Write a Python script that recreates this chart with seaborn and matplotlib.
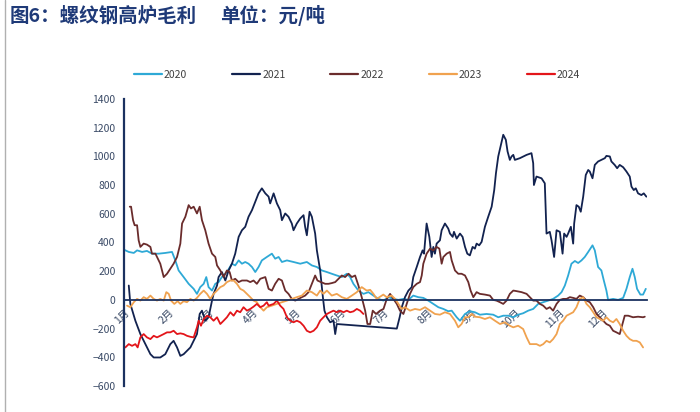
import matplotlib
matplotlib.use("Agg")
import matplotlib.pyplot as plt
import numpy as np
import pandas as pd
import seaborn as sns
from matplotlib.lines import Line2D

# day of year -> margin (yuan/ton)
day_2020 = [0, 3.4, 6.9, 9.2, 12.7, 16.1, 19.6, 24.3, 28.9, 33.6, 35.9, 38.2, 41.7, 45.2, 48.7, 51.0,
            53.3, 55.7, 57.5, 59.1, 61.5, 63.8, 66.1, 68.4, 71.9, 75.4, 77.7, 80.1, 82.4, 84.7, 87.0,
            89.4, 91.7, 94.0, 96.3, 99.8, 103.3, 105.6, 108.0, 110.3, 113.8, 118.4, 123.1, 127.7,
            131.2, 134.7, 138.2, 141.7, 145.1, 148.6, 152.1, 155.6, 157.9, 160.2, 163.7, 167.2, 170.7,
            174.2, 177.7, 181.2, 184.6, 188.1, 191.6, 195.0, 198.6, 202.0, 205.5, 209.0, 212.5, 216.0,
            219.5, 223.0, 226.4, 228.8, 232.3, 234.6, 238.1, 241.5, 245.0, 248.5, 253.2, 257.8, 261.3,
            264.8, 268.3, 271.8, 275.2, 278.7, 282.2, 285.7, 289.2, 292.7, 296.2, 299.6, 303.1, 305.5,
            307.8, 310.1, 312.4, 314.8, 317.1, 319.4, 321.7, 324.1, 327.1, 328.7, 331.0, 333.3, 335.0,
            336.8, 338.0, 341.5, 345.0, 348.5, 350.8, 353.1, 355.0, 356.6, 358.2, 360.5, 362.4, 364.3]
val_2020 = [350, 334, 327, 345, 334, 341, 322, 322, 327, 334, 275, 205, 159, 112, 77, 42,
            89, 112, 159, 89, 65, 112, 124, 159, 194, 252, 240, 275, 252, 264, 252,
            229, 194, 229, 275, 299, 322, 287, 299, 264, 275, 264, 252, 264,
            240, 229, 205, 194, 182, 170, 159, 182, 159, 112, 65, 42, 54,
            30, 7, -5, 19, 7, 0, 7, 0, 30, 19, 14, -5, -28,
            -51, -63, -79, -75, -121, -145, -98, -79, -86, -103, -98, -103, -121,
            -110, -110, -121, -103, -93, -75, -63, -28, -16, -5, 7, 30, 54,
            100, 170, 252, 271, 257, 275, 299, 334, 380, 345, 229, 205, 135,
            65, 0, 7, 0, 14, 77, 159, 217, 159, 77, 37, 37, 77]

day_2021 = [3.4, 4.5, 8.0, 11.5, 15.0, 18.5, 20.8, 25.4, 28.9, 32.4, 34.7, 37.1, 39.4, 41.7, 46.4,
            51.0, 52.9, 54.5, 56.8, 59.1, 61.5, 62.6, 65.0, 66.1, 68.4, 70.8, 73.1, 75.4, 77.7, 80.1,
            82.4, 84.7, 87.0, 89.4, 91.7, 94.0, 96.3, 98.7, 101.0, 102.1, 104.5, 106.8, 109.1, 110.3,
            112.6, 114.9, 117.2, 118.4, 120.7, 123.1, 125.4, 126.5, 127.7, 129.6, 131.2, 133.5, 134.7,
            137.0, 138.9, 140.0, 141.7, 144.0, 146.3, 147.5, 148.6, 190.5, 192.5, 194.0, 196.2, 198.6,
            200.9, 202.0, 204.4, 206.7, 208.5, 209.5, 211.3, 213.2, 214.8, 216.0, 217.1, 218.3, 220.6,
            221.8, 224.1, 226.4, 227.6, 229.5, 230.4, 232.3, 234.6, 236.4, 238.1, 239.7, 241.5, 243.4,
            245.0, 246.2, 248.0, 249.7, 252.0, 254.3, 256.7, 258.5, 259.7, 261.3, 262.9, 264.8, 266.6,
            267.8, 269.4, 270.6, 271.8, 272.9, 276.4, 281.1, 284.5, 285.7, 286.2, 288.0, 291.5, 293.8,
            295.0, 297.3, 298.5, 300.3, 302.0, 304.3, 306.2, 307.3, 309.0, 310.1, 312.0, 313.6, 314.3,
            315.9, 317.5, 318.9, 320.6, 322.4, 324.1, 325.2, 327.1, 328.7, 331.0, 333.3, 335.7, 336.8,
            339.2, 340.3, 342.6, 344.3, 346.1, 348.5, 350.8, 353.1, 354.3, 355.9, 357.3, 358.9, 361.2,
            362.9, 364.7]
val_2021 = [100, -28, -145, -238, -308, -378, -401, -401, -378, -308, -285, -331, -390, -378, -331,
            -238, -98, -75, -145, -121, -5, 42, 100, 159, 194, 135, 205, 252, 322, 439,
            485, 509, 579, 625, 684, 742, 777, 742, 719, 672, 742, 672, 625, 555,
            602, 579, 532, 485, 532, 567, 590, 509, 450, 614, 579, 462, 345,
            205, 19, -75, -121, -156, -145, -238, -168, -200, -120, -50, 19, 65,
            89, 159, 229, 299, 345, 322, 532, 439, 299, 369, 322, 392, 415,
            485, 532, 497, 462, 439, 474, 427, 462, 439, 369, 322, 310, 369,
            357, 392, 380, 404, 509, 579, 649, 765, 882, 999, 1069, 1150, 1115,
            1034, 975, 999, 1010, 975, 987, 1010, 1022, 952, 800, 859, 847, 812,
            462, 474, 415, 299, 485, 474, 322, 462, 439, 462, 509, 392, 532,
            660, 649, 614, 719, 870, 905, 894, 847, 940, 964, 975, 987, 1003,
            999, 964, 940, 917, 940, 924, 894, 859, 789, 765, 777, 742, 730,
            742, 719]

day_2022 = [4.1, 5.0, 6.4, 7.5, 9.2, 10.3, 11.5, 13.8, 16.1, 18.5, 19.6, 22.0, 23.1, 25.4, 27.8,
            30.1, 32.4, 34.7, 37.1, 39.4, 40.6, 42.9, 45.2, 46.8, 48.7, 51.0, 52.9, 54.5, 56.8, 59.1,
            61.5, 63.8, 65.0, 67.3, 69.6, 71.9, 73.8, 75.4, 77.7, 80.1, 82.4, 85.9, 88.2, 90.5, 92.8,
            95.2, 98.7, 101.0, 103.3, 105.6, 108.0, 110.3, 112.6, 114.9, 117.2, 119.6, 121.9, 124.2,
            126.5, 128.9, 131.2, 133.5, 135.1, 137.5, 140.5, 142.8, 145.1, 147.5, 149.8, 152.1, 154.4,
            156.8, 159.1, 161.4, 163.7, 166.0, 168.4, 170.0, 171.9, 173.7, 176.0, 178.8, 181.2, 183.5,
            185.8, 188.1, 190.5, 192.7, 195.1, 197.4, 199.7, 202.0, 204.4, 206.7, 207.9, 209.0, 211.3,
            213.7, 216.0, 218.3, 220.2, 221.8, 223.0, 225.3, 227.6, 228.8, 231.1, 233.4, 235.7, 238.1,
            240.4, 242.0, 243.9, 246.2, 248.5, 252.0, 255.5, 257.8, 260.1, 262.5, 264.8, 267.1, 269.4,
            271.8, 274.1, 277.6, 281.1, 283.4, 285.7, 288.0, 290.4, 292.7, 295.0, 297.3, 299.6, 302.0,
            304.3, 306.6, 309.0, 311.3, 313.6, 315.9, 318.2, 320.6, 322.9, 325.2, 327.6, 329.9, 332.2,
            334.5, 336.8, 339.2, 341.5, 343.8, 346.1, 348.0, 349.6, 352.0, 355.4, 358.9, 362.4, 363.6]
val_2022 = [649, 649, 555, 520, 520, 415, 369, 392, 385, 369, 322, 322, 299, 252, 159,
            182, 217, 252, 299, 392, 532, 579, 660, 637, 649, 602, 649, 555, 485, 392,
            322, 299, 240, 205, 159, 205, 194, 135, 147, 124, 135, 135, 124, 135, 112,
            147, 159, 77, 65, 112, 147, 135, 65, 42, 7, -5, 7, 19,
            30, 54, 112, 170, 135, 124, 112, 112, 117, 124, 147, 170, 159,
            182, 159, 170, 100, 19, -75, -168, -168, -75, -98, -75, -63, 7,
            42, 7, -28, -75, -98, -28, 42, 89, 112, 124, 170, 252, 322,
            357, 345, 369, 357, 252, 299, 322, 334, 275, 205, 182, 182, 170,
            124, 65, 19, 54, 42, 37, 30, 0, -5, -16, -28, -5, 42,
            65, 61, 54, 42, 19, -5, -5, -28, -40, -63, -51, -75, -28,
            0, 7, 7, 19, 14, 7, 30, 19, -5, -16, -51, -98, -121,
            -145, -168, -180, -215, -226, -238, -168, -110, -110, -121, -117, -121, -117]

day_2023 = [2.2, 4.5, 6.9, 9.2, 11.5, 13.8, 16.1, 18.5, 20.8, 23.1, 25.4, 27.8, 29.6, 31.3, 32.9,
            35.2, 37.5, 39.4, 41.7, 44.0, 46.4, 48.7, 51.0, 53.3, 55.7, 58.0, 60.3, 62.6, 65.0, 67.3,
            69.6, 71.9, 74.3, 76.6, 78.9, 81.2, 83.5, 85.9, 88.2, 90.5, 92.8, 95.2, 97.5, 99.8, 103.3,
            106.8, 110.3, 113.8, 117.2, 120.7, 124.2, 127.7, 131.2, 134.7, 137.0, 139.3, 141.7, 145.1,
            148.6, 152.1, 155.6, 159.1, 162.6, 166.0, 169.5, 171.9, 174.2, 176.5, 181.1, 183.4, 186.9,
            189.3, 191.6, 193.9, 196.2, 199.7, 203.2, 206.7, 210.2, 213.7, 217.1, 220.6, 224.1, 227.6,
            231.1, 233.4, 235.7, 238.1, 240.4, 242.7, 245.0, 248.5, 252.0, 255.5, 259.0, 262.5, 266.0,
            269.4, 271.8, 275.2, 278.7, 281.1, 283.4, 288.0, 290.4, 292.7, 295.0, 297.3, 299.6, 302.0,
            304.3, 306.6, 309.0, 311.3, 313.6, 315.9, 318.2, 320.6, 322.9, 325.2, 327.6, 329.9, 332.2,
            334.5, 336.8, 339.2, 341.5, 343.8, 346.1, 348.5, 350.8, 353.1, 355.4, 357.8, 360.1, 362.4]
val_2023 = [-40, -51, -16, 7, -5, 19, 7, 30, 7, -5, 7, -5, 54, 42, -5,
            -28, -9, -28, -9, -16, 7, -5, 14, 42, 65, 42, 7, 42, 65, 89,
            100, 124, 135, 135, 112, 77, 65, 42, 19, -5, -16, -51, -75, -51, -40,
            -28, -16, -5, 7, 19, 30, 65, 54, 30, 65, 42, 65, 30,
            42, 19, 7, 30, 54, 89, 65, 70, 42, 7, 37, 19, 30,
            7, -28, -63, -51, -75, -63, -70, -51, -75, -98, -103, -86, -98,
            -145, -191, -168, -121, -121, -98, -117, -121, -133, -121, -145, -168, -156,
            -180, -191, -180, -203, -261, -308, -308, -320, -308, -285, -296, -273, -238,
            -168, -145, -110, -98, -86, -51, 7, 19, -28, -51, -86, -121, -133,
            -145, -121, -145, -156, -133, -168, -215, -250, -273, -285, -285, -296, -331]

day_2024 = [1.0, 3.4, 5.7, 8.0, 9.6, 11.5, 13.8, 16.1, 18.5, 20.8, 23.1, 25.4, 27.8, 30.1, 32.4,
            34.7, 37.1, 39.4, 41.7, 44.0, 46.4, 48.7, 51.0, 52.2, 53.8, 55.7, 58.0, 60.3, 62.6, 65.0,
            67.3, 69.6, 71.9, 74.3, 76.6, 78.9, 81.2, 83.5, 85.9, 88.2, 90.5, 92.8, 95.2, 97.5, 99.8,
            101.0, 104.5, 106.8, 109.1, 111.4, 113.8, 116.1, 118.4, 120.7, 123.1, 125.4, 127.7, 130.0,
            132.4, 134.7, 137.0, 139.3, 141.7, 144.0, 146.3, 148.6, 151.0, 153.3, 155.6, 157.9, 160.2,
            162.6, 164.9, 167.2]
val_2024 = [-331, -308, -320, -308, -331, -261, -238, -261, -273, -250, -261, -250, -238, -226, -226,
            -215, -238, -233, -238, -250, -257, -261, -191, -145, -180, -133, -110, -121, -145, -121,
            -168, -145, -121, -86, -110, -75, -86, -51, -75, -63, -47, -28, -51, -40, -16,
            -40, -28, -5, -40, -63, -121, -145, -156, -145, -156, -180, -215, -226,
            -215, -191, -145, -121, -98, -86, -75, -86, -75, -86, -75, -86, -80,
            -63, -75, -98]

years = ["2020", "2021", "2022", "2023", "2024"]
colors = ["#2ea9d6", "#12224f", "#6a2c2c", "#f0a24f", "#e3151a"]
month_days = [0, 31, 59, 90, 120, 151, 181, 212, 243, 273, 304, 334, 365]
month_labels = ["1月", "2月", "3月", "4月", "5月", "6月", "7月", "8月", "9月", "10月", "11月", "12月", ""]

frames = []
for yr, d, v in zip(years, [day_2020, day_2021, day_2022, day_2023, day_2024],
                    [val_2020, val_2021, val_2022, val_2023, val_2024]):
    frames.append(pd.DataFrame({"day": d, "value": v, "year": yr}))
df = pd.concat(frames, ignore_index=True)

sns.set_theme(style="white")
plt.rcParams["font.family"] = ["Noto Sans CJK SC", "DejaVu Sans"]

navy = "#1b3160"
fig = plt.figure(figsize=(7.0, 4.12), dpi=100)
ax = fig.add_axes([0.177, 0.063, 0.747, 0.697])

sns.lineplot(data=df, x="day", y="value", hue="year", palette=dict(zip(years, colors)),
             estimator=None, sort=False, linewidth=1.3, legend=False, ax=ax)

ax.set_xlim(0, 365)
ax.set_ylim(-600, 1400)
ax.set_yticks(np.arange(-600, 1401, 200))
ax.set_xticks(month_days)
ax.set_xticklabels(month_labels)
ax.set_xlabel("")
ax.set_ylabel("")

for s in ["top", "right"]:
    ax.spines[s].set_visible(False)
ax.spines["left"].set_color(navy)
ax.spines["left"].set_linewidth(1.6)
ax.spines["bottom"].set_position(("data", 0))
ax.spines["bottom"].set_color(navy)
ax.spines["bottom"].set_linewidth(1.3)
ax.tick_params(axis="y", direction="in", length=4, width=1.2, color=navy,
               labelsize=7.5, labelcolor="#3a4a66", pad=6)
ax.tick_params(axis="x", direction="in", length=3, width=1.0, color=navy,
               labelsize=7.5, labelcolor="#3a4a66", pad=5, labelrotation=45)
plt.setp(ax.get_xticklabels(), ha="right", va="top", rotation_mode="anchor")

handles = [Line2D([0], [0], color=c, lw=1.6) for c in colors]
fig.legend(handles, years, loc="center", bbox_to_anchor=(0.51, 0.818), ncol=5, frameon=False,
           fontsize=7.5, handlelength=2.7, columnspacing=4.3, handletextpad=0.2,
           labelcolor="#404040")

fig.text(0.014, 0.962, "图6：螺纹钢高炉毛利", fontsize=14, fontweight="bold",
         color="#1f3a78", va="center", ha="left")
fig.text(0.314, 0.962, "单位：元/吨", fontsize=14, fontweight="bold",
         color="#1f3a78", va="center", ha="left")
fig.add_artist(Line2D([0.007, 0.007], [0.0, 1.0], color="#b0b0b0", lw=1.0,
                      transform=fig.transFigure))

fig.savefig("out.png", dpi=100)
